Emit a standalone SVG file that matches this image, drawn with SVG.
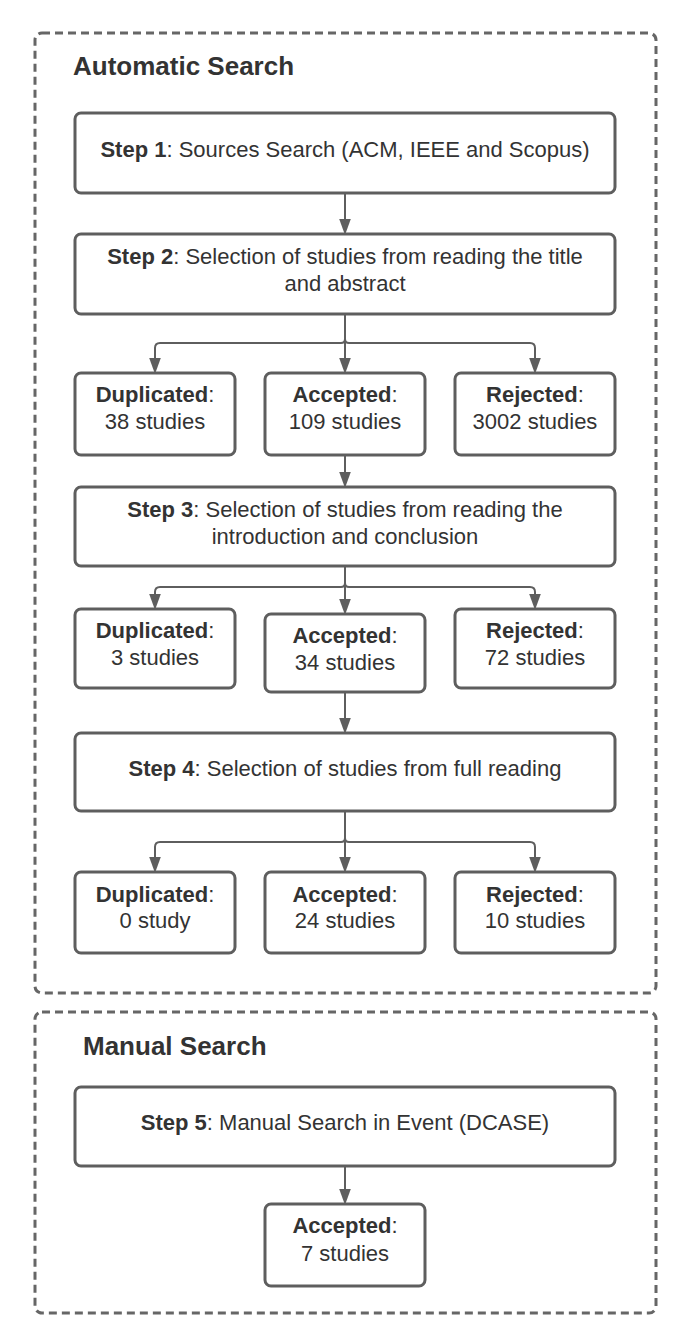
<svg xmlns="http://www.w3.org/2000/svg" width="696" height="1336" viewBox="0 0 696 1336">
<style>
.frame{fill:none;stroke:#666;stroke-width:3;stroke-dasharray:8 5}
.box{fill:#fff;stroke:#5e5e5e;stroke-width:3}
.t{font-family:"Liberation Sans",Arial,sans-serif;font-size:22px;fill:#333;text-anchor:middle}
.b{font-weight:bold}
.title{font-family:"Liberation Sans",Arial,sans-serif;font-size:26px;font-weight:bold;fill:#333}
.c{fill:none;stroke:#5e5e5e;stroke-width:2}
</style>
<defs>
<marker id="arr" markerUnits="userSpaceOnUse" markerWidth="17" markerHeight="13" viewBox="0 -6.5 17 13" refX="0" refY="0" orient="auto">
<path d="M0,-5.8 L16,0 L0,5.8 z" fill="#5e5e5e"/>
</marker>
</defs>
<rect width="696" height="1336" fill="#fff"/>

<g id="automatic-search">
<rect class="frame" x="35" y="33" width="621" height="960" rx="7"/>
<text class="title" x="73" y="75">Automatic Search</text>
</g>
<g id="manual-search">
<rect class="frame" x="35" y="1012" width="621" height="301" rx="7"/>
<text class="title" x="83" y="1055">Manual Search</text>
</g>

<g id="connectors">
<path class="c" d="M345,193 V219" marker-end="url(#arr)"/>
<path class="c" d="M345,314 V358" marker-end="url(#arr)"/>
<path class="c" d="M345,314 V339 Q345,343 341,343 H160 Q155,343 155,348 V358" marker-end="url(#arr)"/>
<path class="c" d="M345,314 V339 Q345,343 349,343 H530 Q535,343 535,348 V358" marker-end="url(#arr)"/>
<path class="c" d="M345,455 V472" marker-end="url(#arr)"/>
<path class="c" d="M345,566 V599" marker-end="url(#arr)"/>
<path class="c" d="M345,566 V583 Q345,587 341,587 H160 Q155,587 155,592 V594" marker-end="url(#arr)"/>
<path class="c" d="M345,566 V583 Q345,587 349,587 H530 Q535,587 535,592 V594" marker-end="url(#arr)"/>
<path class="c" d="M345,692 V718" marker-end="url(#arr)"/>
<path class="c" d="M345,811 V857" marker-end="url(#arr)"/>
<path class="c" d="M345,811 V838 Q345,842 341,842 H160 Q155,842 155,847 V857" marker-end="url(#arr)"/>
<path class="c" d="M345,811 V838 Q345,842 349,842 H530 Q535,842 535,847 V857" marker-end="url(#arr)"/>
<path class="c" d="M345,1166 V1189" marker-end="url(#arr)"/>
</g>

<g id="step1">
<rect class="box" x="75" y="113" width="540" height="80" rx="6"/>
<text class="t" x="345" y="157"><tspan class="b">Step 1</tspan>: Sources Search (ACM, IEEE and Scopus)</text>
</g>
<g id="step2">
<rect class="box" x="75" y="234" width="540" height="80" rx="6"/>
<text class="t" x="345" y="264"><tspan class="b">Step 2</tspan>: Selection of studies from reading the title</text>
<text class="t" x="345" y="291">and abstract</text>
</g>
<g id="dup1">
<rect class="box" x="75" y="373" width="160" height="82" rx="6"/>
<text class="t" x="155" y="402"><tspan class="b">Duplicated</tspan>:</text>
<text class="t" x="155" y="429">38 studies</text>
</g>
<g id="acc1">
<rect class="box" x="265" y="373" width="160" height="82" rx="6"/>
<text class="t" x="345" y="402"><tspan class="b">Accepted</tspan>:</text>
<text class="t" x="345" y="429">109 studies</text>
</g>
<g id="rej1">
<rect class="box" x="455" y="373" width="160" height="82" rx="6"/>
<text class="t" x="535" y="402"><tspan class="b">Rejected</tspan>:</text>
<text class="t" x="535" y="429">3002 studies</text>
</g>
<g id="step3">
<rect class="box" x="75" y="487" width="540" height="79" rx="6"/>
<text class="t" x="345" y="517"><tspan class="b">Step 3</tspan>: Selection of studies from reading the</text>
<text class="t" x="345" y="544">introduction and conclusion</text>
</g>
<g id="dup2">
<rect class="box" x="75" y="609" width="160" height="79" rx="6"/>
<text class="t" x="155" y="638"><tspan class="b">Duplicated</tspan>:</text>
<text class="t" x="155" y="665">3 studies</text>
</g>
<g id="acc2">
<rect class="box" x="265" y="614" width="160" height="78" rx="6"/>
<text class="t" x="345" y="643"><tspan class="b">Accepted</tspan>:</text>
<text class="t" x="345" y="670">34 studies</text>
</g>
<g id="rej2">
<rect class="box" x="455" y="609" width="160" height="79" rx="6"/>
<text class="t" x="535" y="638"><tspan class="b">Rejected</tspan>:</text>
<text class="t" x="535" y="665">72 studies</text>
</g>
<g id="step4">
<rect class="box" x="75" y="733" width="540" height="78" rx="6"/>
<text class="t" x="345" y="776"><tspan class="b">Step 4</tspan>: Selection of studies from full reading</text>
</g>
<g id="dup3">
<rect class="box" x="75" y="872" width="160" height="81" rx="6"/>
<text class="t" x="155" y="902"><tspan class="b">Duplicated</tspan>:</text>
<text class="t" x="155" y="928">0 study</text>
</g>
<g id="acc3">
<rect class="box" x="265" y="872" width="160" height="81" rx="6"/>
<text class="t" x="345" y="902"><tspan class="b">Accepted</tspan>:</text>
<text class="t" x="345" y="928">24 studies</text>
</g>
<g id="rej3">
<rect class="box" x="455" y="872" width="160" height="81" rx="6"/>
<text class="t" x="535" y="902"><tspan class="b">Rejected</tspan>:</text>
<text class="t" x="535" y="928">10 studies</text>
</g>
<g id="step5">
<rect class="box" x="75" y="1087" width="540" height="79" rx="6"/>
<text class="t" x="345" y="1130"><tspan class="b">Step 5</tspan>: Manual Search in Event (DCASE)</text>
</g>
<g id="acc7">
<rect class="box" x="265" y="1204" width="160" height="82" rx="6"/>
<text class="t" x="345" y="1233"><tspan class="b">Accepted</tspan>:</text>
<text class="t" x="345" y="1261">7 studies</text>
</g>
</svg>
